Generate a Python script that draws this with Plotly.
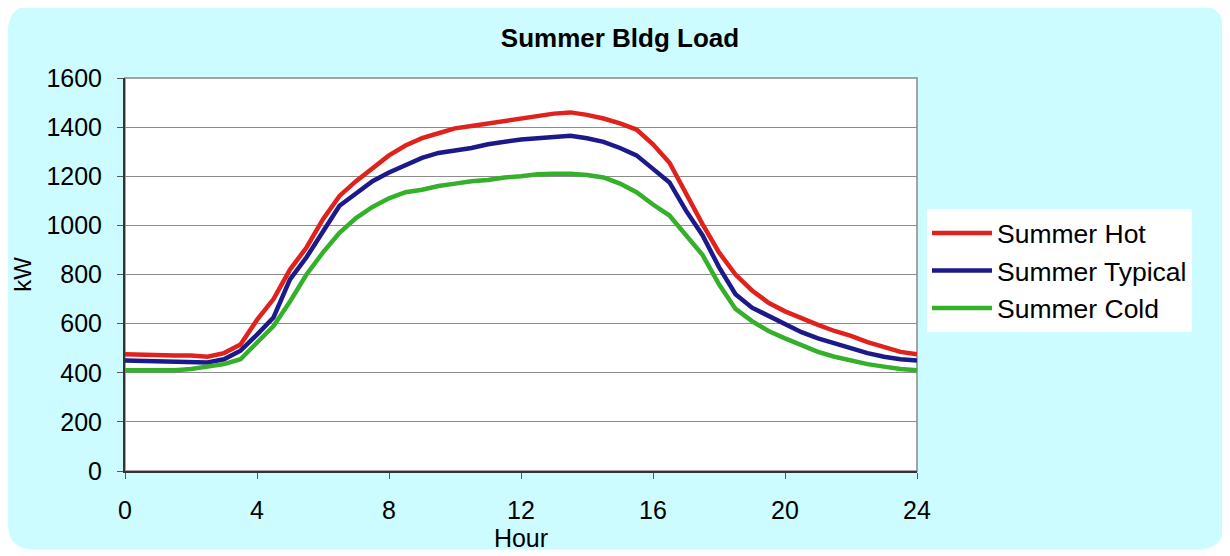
import plotly.graph_objects as go

# half-hourly load readings, 0..24 h
hours = [h / 2 for h in range(49)]

summer_hot = [475, 472, 470, 470, 470, 465, 480, 515, 615, 700, 820, 910, 1025, 1120, 1180, 1235,
              1285, 1325, 1355, 1375, 1395, 1405, 1415, 1425, 1435, 1445, 1455, 1460, 1450, 1435,
              1415, 1390, 1330, 1255, 1130, 1005, 890, 800, 735, 685, 650, 620, 595, 570, 550,
              525, 505, 485, 475]
summer_typical = [450, 448, 447, 442, 440, 442, 455, 490, 555, 625, 780, 870, 975, 1080, 1130, 1180,
                  1215, 1245, 1275, 1295, 1305, 1315, 1330, 1340, 1350, 1355, 1360, 1365, 1355, 1340,
                  1315, 1285, 1230, 1175, 1060, 960, 830, 720, 665, 630, 600, 565, 540, 520, 500,
                  480, 465, 455, 450]
summer_cold = [410, 410, 410, 410, 415, 425, 435, 455, 520, 590, 690, 800, 890, 970, 1030, 1075,
               1110, 1135, 1145, 1160, 1170, 1180, 1185, 1195, 1200, 1208, 1210, 1210, 1205, 1195,
               1170, 1135, 1085, 1040, 960, 880, 760, 660, 610, 570, 540, 510, 485, 465, 450,
               435, 425, 415, 410]

x_ticks = [0, 4, 8, 12, 16, 20, 24]
y_ticks = [0, 200, 400, 600, 800, 1000, 1200, 1400, 1600]

# page body adds an 8px margin, so the figure is laid out 8px up/left
W, H = 1222, 548
L, R, T, B = 117, 313, 70, 83
pw, ph = W - L - R, H - T - B


def px(x, y):
    # figure pixel -> paper coordinates
    return (x - L) / pw, (H - B - y) / ph


def rounded_path(x0, y0, x1, y1, r):
    cmds = [("M", x0 + r, y0), ("L", x1 - r, y0), ("Q", x1, y0, x1, y0 + r), ("L", x1, y1 - r),
            ("Q", x1, y1, x1 - r, y1), ("L", x0 + r, y1), ("Q", x0, y1, x0, y1 - r),
            ("L", x0, y0 + r), ("Q", x0, y0, x0 + r, y0)]
    parts = []
    for c in cmds:
        s = c[0]
        coords = c[1:]
        for i in range(0, len(coords), 2):
            a, b = px(coords[i], coords[i + 1])
            s += f" {a:.5f},{b:.5f}"
        parts.append(s)
    return " ".join(parts) + " Z"


fig = go.Figure()
fig.add_trace(go.Scatter(x=hours, y=summer_hot, name="Summer Hot", mode="lines",
                         line=dict(color="#E0221C", width=4.5)))
fig.add_trace(go.Scatter(x=hours, y=summer_typical, name="Summer Typical", mode="lines",
                         line=dict(color="#1C1A8A", width=4.5)))
fig.add_trace(go.Scatter(x=hours, y=summer_cold, name="Summer Cold", mode="lines",
                         line=dict(color="#34B02A", width=4.5)))

fig.add_shape(type="path", xref="paper", yref="paper", layer="below",
              path=rounded_path(0, -3, 1216, 544, 26), fillcolor="#CCFCFF", line_width=0)
fig.add_shape(type="rect", xref="paper", yref="paper", layer="below",
              x0=0, x1=1, y0=0, y1=1, fillcolor="white", line=dict(color="#888888", width=1.5))

fig.update_layout(
    width=W, height=H,
    margin=dict(l=L, r=R, t=T, b=B),
    paper_bgcolor="white", plot_bgcolor="rgba(0,0,0,0)",
    font=dict(family="Liberation Sans, Arial", color="black", size=25),
    title=dict(text="<b>Summer Bldg Load</b>", x=px(612, 0)[0], xref="paper", xanchor="center",
               y=1 - 30 / H, yanchor="middle", font=dict(size=26)),
    legend=dict(x=px(919, 0)[0], y=px(0, 202)[1], xanchor="left", yanchor="top",
                bgcolor="white", borderwidth=0, font=dict(size=26.5), itemwidth=60,
                tracegroupgap=0),
    showlegend=True,
)
fig.update_xaxes(range=[0, 24], tickvals=x_ticks, showgrid=False, zeroline=False,
                 showline=True, linecolor="#333333", linewidth=2,
                 ticks="outside", ticklen=6, tickcolor="#555555", ticklabelstandoff=10,
                 title=dict(text="Hour", standoff=2, font=dict(size=25)))
fig.update_yaxes(range=[0, 1600], tickvals=y_ticks, showgrid=True, gridcolor="#8c8c8c",
                 gridwidth=1, zeroline=False, showline=True, linecolor="#333333", linewidth=2,
                 ticks="outside", ticklen=6, tickcolor="#555555", ticklabelstandoff=10,
                 title=dict(text="kW", standoff=8, font=dict(size=24)))

fig.write_html("out.html")
